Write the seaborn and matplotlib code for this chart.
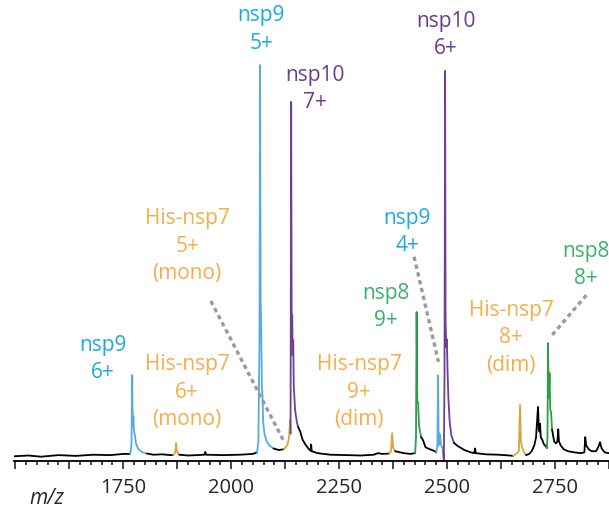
import numpy as np
import pandas as pd
import seaborn as sns
import matplotlib.pyplot as plt
from matplotlib.ticker import MultipleLocator, FuncFormatter

sns.set_style('white')
plt.rcParams['font.family'] = ['Open Sans', 'DejaVu Sans']

# spectrum pieces: (m/z, relative intensity)
black_1 = [(1497, 0.2), (1530, 0.4), (1560, 0.1), (1600, 0.5), (1640, 0.3), (1680, 0.6),
           (1720, 0.5), (1750, 0.8), (1766, 0.8)]
nsp9_6 = [(1766, 0.8), (1769, 3), (1770.8, 20.9), (1772, 8), (1773.5, 10.5), (1775, 6.5),
          (1777, 5.5), (1779.4, 3.5), (1785, 2.0), (1795, 1.2), (1805, 0.9)]
black_2 = [(1805, 0.9), (1820, 0.6), (1840, 0.7), (1860, 0.5), (1866, 0.5)]
his7_6 = [(1866, 0.5), (1870.5, 1.2), (1872.5, 3.6), (1874, 1.5), (1878, 0.8), (1880, 0.6)]
black_3 = [(1880, 0.6), (1900, 0.4), (1920, 0.5), (1938, 0.6), (1940, 1.3), (1942, 0.6),
           (1980, 0.5), (2020, 0.6), (2050, 0.8), (2060, 1.2)]
nsp9_5 = [(2060, 1.2), (2063, 4), (2065.5, 30), (2067, 100), (2068.3, 40), (2069.5, 33.7),
          (2071, 18), (2072.5, 15.8), (2074, 9), (2077, 6), (2082, 4), (2090, 2.8), (2098, 2.2)]
black_4 = [(2098, 2.2), (2110, 1.8), (2122, 2.0)]
his7_5 = [(2122, 2.0), (2130, 3.0), (2134, 5), (2136.5, 9.4), (2137.5, 6)]
nsp10_7 = [(2137.5, 6), (2138.9, 90.6), (2140.2, 30), (2141.3, 36.2), (2142.5, 26),
           (2143.6, 29.8), (2145, 18), (2148, 12), (2152, 9), (2155, 7.7)]
black_5 = [(2155, 7.7), (2160, 6.5), (2165, 4.5), (2172, 3.2), (2180, 2.0), (2184, 1.6),
           (2185.2, 3.2), (2186.5, 1.5), (2200, 1.0), (2230, 0.6), (2270, 0.5), (2300, 0.4),
           (2330, 0.6), (2340, 1.0), (2350, 0.8), (2366, 0.9)]
his7_9 = [(2366, 0.9), (2370, 1.5), (2372.7, 6.1), (2375, 2.5), (2379.6, 1.5)]
black_6 = [(2379.6, 1.5), (2400, 1.0), (2415, 0.8), (2426, 1.0)]
nsp8_9 = [(2426, 1.0), (2428, 5), (2429.4, 37), (2431, 14), (2432.9, 14), (2435, 8), (2439.8, 5.1)]
black_7 = [(2439.8, 5.1), (2444.4, 4.3), (2450, 2.5), (2460, 2.0), (2470, 1.6), (2475, 1.2)]
nsp9_4 = [(2475, 1.2), (2477.5, 3), (2479.2, 20.9), (2480.5, 3), (2482, 6), (2484, 5.5),
          (2486, 3), (2489, 2.5), (2490.7, 1.5)]
nsp10_6 = [(2490.7, 1.5), (2492.5, -0.8), (2494, 20), (2495.4, 98.5), (2496.5, 35), (2498, 28.1),
           (2499.5, 30), (2501, 22.2), (2503, 15), (2506, 9), (2510, 5.5), (2516, 3.6)]
black_8 = [(2516, 3.6), (2525, 2.8), (2540, 1.8), (2555, 1.2), (2563, 1.0), (2564.8, 2.2),
           (2566.5, 1.0), (2590, 0.7), (2620, 0.6), (2645, 0.4), (2653, 0.3)]
his7_8 = [(2653, 0.3), (2660, 0.8), (2666, 1.5), (2669, 13.3), (2671, 4), (2674, 2.5),
          (2680, 0.8), (2683, 0.5)]
black_9 = [(2683, 0.5), (2690, 0.8), (2696, 1.5), (2702, 3), (2706, 5), (2710.6, 12.8),
           (2712.5, 7), (2714, 6.5), (2715.3, 8.5), (2717, 5.0), (2720, 4.5), (2724.5, 3.2),
           (2729, 2.8), (2731, 2.3)]
nsp8_8 = [(2731, 2.3), (2732.5, 5), (2733.8, 29.1), (2735.5, 15), (2737.3, 21.4), (2739, 12),
          (2740.8, 11.5), (2743.1, 7)]
black_10 = [(2743.1, 7), (2748, 4), (2752, 3.5), (2755.5, 4), (2757.5, 7.1), (2759, 4),
            (2763, 3), (2770, 2), (2780, 1.5), (2795, 1.2), (2810, 1.0), (2818, 1.2),
            (2820, 5.1), (2822, 3), (2828, 2), (2835, 1.5), (2845, 1.5), (2850, 2.5),
            (2854.2, 3.8), (2858, 2.2), (2865, 1.2), (2875, 1.0)]

BLUE, PURPLE, ORANGE, GREEN = '#5aaadd', '#6e3f93', '#d9a43c', '#2f9c4a'
pieces = [(black_1, 'black'), (nsp9_6, BLUE), (black_2, 'black'), (his7_6, ORANGE),
          (black_3, 'black'), (nsp9_5, BLUE), (black_4, 'black'), (his7_5, ORANGE),
          (nsp10_7, PURPLE), (black_5, 'black'), (his7_9, ORANGE), (black_6, 'black'),
          (nsp8_9, GREEN), (black_7, 'black'), (nsp9_4, BLUE), (nsp10_6, PURPLE),
          (black_8, 'black'), (his7_8, ORANGE), (black_9, 'black'), (nsp8_8, GREEN),
          (black_10, 'black')]

# labels: text, m/z, intensity, colour
labels = [('nsp9\n6+', 1703.7, 25.0, '#1aa9e5'),
          ('His-nsp7\n6+\n(mono)', 1898.1, 16.6, '#f7ac4a'),
          ('His-nsp7\n5+\n(mono)', 1898.1, 53.8, '#f7ac4a'),
          ('nsp9\n5+', 2069.4, 109.0, '#1aa9e5'),
          ('nsp10\n7+', 2194.4, 93.9, '#6b3b8f'),
          ('His-nsp7\n9+\n(dim)', 2296.3, 16.6, '#f7ac4a'),
          ('nsp8\n9+', 2358.8, 38.3, '#36b26b'),
          ('nsp9\n4+', 2407.4, 57.4, '#1aa9e5'),
          ('nsp10\n6+', 2497.7, 107.7, '#6b3b8f'),
          ('His-nsp7\n8+\n(dim)', 2648.0, 30.4, '#f7ac4a'),
          ('nsp8\n8+', 2821.8, 49.0, '#36b26b')]

# dotted leader lines
leaders = [((1953, 39.8), (2122.7, 3.9)),
           ((2423.6, 51.1), (2480.0, 24.3)),
           ((2822.5, 41.3), (2740.0, 30.7))]

fig = plt.figure(figsize=(6.09, 5.07), dpi=100)
ax = fig.add_axes([14/609, 46/507, 595/609, 461/507])

for pts, col in pieces:
    df = pd.DataFrame(pts, columns=['mz', 'intensity'])
    sns.lineplot(data=df, x='mz', y='intensity', color=col, lw=1.3, sort=False,
                 estimator=None, ax=ax)

for (x0, y0), (x1, y1) in leaders:
    ax.plot([x0, x1], [y0, y1], color='#9a9a9a', lw=2.4, ls=(0, (1.3, 1.1)))

for txt, x, y, col in labels:
    ax.text(x, y, txt, color=col, ha='center', va='center', fontsize=15,
            linespacing=1.42, clip_on=False)

ax.set_xlim(1497, 2875)
ax.set_ylim(-1.0, 116.6)
ax.xaxis.set_major_locator(MultipleLocator(125))
ax.xaxis.set_minor_locator(MultipleLocator(25))
ax.xaxis.set_major_formatter(FuncFormatter(lambda v, p: f'{v:.0f}' if v % 250 == 0 and v > 1500 else ''))
ax.tick_params(axis='x', which='major', length=6, width=1.2, labelsize=14.5, pad=6, direction='out',
               bottom=True)
ax.tick_params(axis='x', which='minor', length=3, width=1.2, direction='out', bottom=True)
ax.set_yticks([])
ax.set_xlabel('')
ax.set_ylabel('')
for s in ['left', 'top', 'right']:
    ax.spines[s].set_visible(False)
ax.spines['bottom'].set_linewidth(1.3)
ax.spines['bottom'].set_color('black')

fig.text(47/609, 1 - 498/507, 'm/z', style='italic', ha='center', va='center', fontsize=15)

fig.savefig('out.png', dpi=100)
